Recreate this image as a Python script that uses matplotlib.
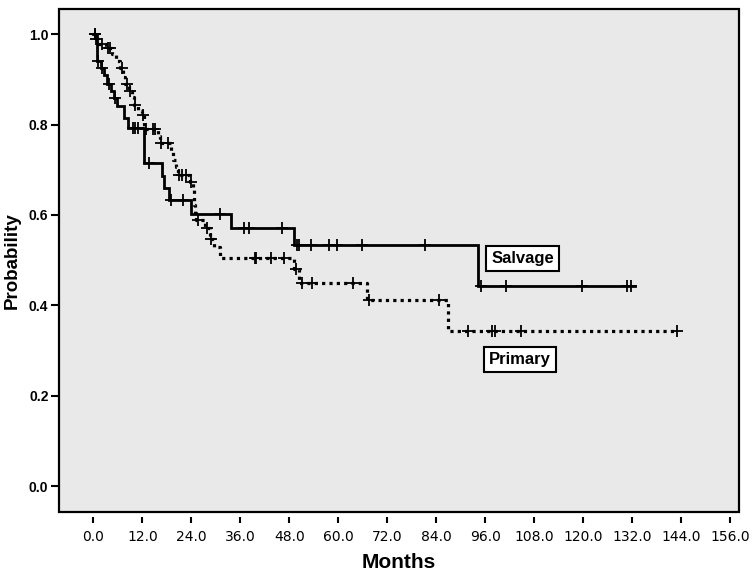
import numpy as np
import matplotlib
matplotlib.use("Agg")
import matplotlib.pyplot as plt
from matplotlib.patches import Rectangle

# ---- data ----
salvage_times = [0, 0.8, 1.8, 2.5, 3.3, 4.2, 5.0, 5.8, 7.6, 8.5, 12.4, 16.7, 17.3, 18.6, 23.8, 33.8, 49.1, 94.2]
salvage_surv = [1.0, 0.94, 0.925, 0.91, 0.89, 0.875, 0.858, 0.842, 0.814, 0.793, 0.715, 0.686, 0.66, 0.633, 0.602, 0.571, 0.534, 0.443]
salvage_end = 132.6
salvage_censor = [0.3, 1.2, 2.0, 3.8, 5.3, 9.6, 10.2, 11.0, 13.5, 18.9, 22.0, 31.0, 36.9, 38.2, 46.2,
                  49.8, 50.4, 53.4, 57.8, 59.7, 65.9, 81.2, 94.9, 101.0, 119.6, 130.6, 131.6]

primary_times = [0, 0.5, 1.2, 3.0, 4.5, 5.5, 6.5, 7.3, 7.8, 8.6, 9.5, 10.0, 11.0, 12.0, 12.5, 15.8, 16.3,
                 19.0, 19.5, 20.3, 20.6, 23.7, 24.4, 24.6, 24.8, 25.2, 27.3, 28.5, 29.5, 31.0, 49.1, 50.4, 67.1, 86.9]
primary_surv = [1.0, 0.99, 0.978, 0.97, 0.955, 0.94, 0.925, 0.905, 0.89, 0.875, 0.86, 0.843, 0.83, 0.82, 0.79, 0.775, 0.759,
                0.74, 0.722, 0.705, 0.689, 0.672, 0.655, 0.622, 0.605, 0.589, 0.571, 0.548, 0.53, 0.504, 0.48, 0.45, 0.413, 0.343]
primary_end = 143.0
primary_censor = [0.3, 0.6, 2.0, 3.5, 4.0, 6.9, 8.2, 8.9, 10.2, 12.2, 13.0, 14.5, 15.2, 16.6, 18.3, 21.0, 21.8, 22.6,
                  24.0, 25.5, 27.7, 28.9, 39.5, 39.8, 43.4, 46.6, 49.7, 51.0, 53.5, 63.5, 67.5, 84.7, 91.8, 97.5,
                  98.3, 104.6, 143.0]

x_ticks = [0, 12, 24, 36, 48, 60, 72, 84, 96, 108, 120, 132, 144, 156]
y_ticks = [0.0, 0.2, 0.4, 0.6, 0.8, 1.0]
labels = ["Salvage", "Primary"]

NARROW = ["Liberation Sans Narrow", "Liberation Sans", "DejaVu Sans"]
WIDE = ["Liberation Sans", "DejaVu Sans"]


def surv_at(times, surv, t):
    idx = np.searchsorted(np.asarray(times), t, side="right") - 1
    return np.asarray(surv)[idx]


fig = plt.figure(figsize=(7.56, 5.78), dpi=100)
ax = fig.add_axes([0.0787, 0.1147, 0.8988, 0.8694])
ax.set_facecolor("#e9e9e9")

# Salvage (solid)
st = list(salvage_times) + [salvage_end]
ss = list(salvage_surv) + [salvage_surv[-1]]
ax.step(st, ss, where="post", color="black", lw=2.0, solid_joinstyle="miter")
ax.plot(salvage_censor, surv_at(salvage_times, salvage_surv, salvage_censor),
        ls="none", marker="+", ms=8, mew=1.3, color="black")

# Primary (dotted)
pt = list(primary_times) + [primary_end]
ps = list(primary_surv) + [primary_surv[-1]]
ax.step(pt, ps, where="post", color="black", lw=2.3, ls=(0, (1.0, 1.3)), dash_capstyle="butt")
ax.plot(primary_censor, surv_at(primary_times, primary_surv, primary_censor),
        ls="none", marker="+", ms=8, mew=1.3, color="black")

ax.set_xlim(-8.3, 158.1)
ax.set_ylim(-0.056, 1.055)

ax.set_xticks(x_ticks)
ax.set_xticklabels([f"{v:.1f}" for v in x_ticks])
ax.set_yticks(y_ticks)
ax.set_yticklabels([f"{v:.1f}" for v in y_ticks])

for lab in ax.get_xticklabels() + ax.get_yticklabels():
    lab.set_family(NARROW)
    lab.set_fontweight("bold")
    lab.set_fontsize(10)

ax.spines["bottom"].set_position(("outward", 4))
for s in ax.spines.values():
    s.set_visible(False)
ax.add_patch(Rectangle((0, 0), 1, 1, transform=ax.transAxes, fill=False,
                       lw=1.6, ec="black", clip_on=False, zorder=10))

ax.tick_params(axis="x", direction="out", length=4.5, width=1.5, pad=4.5)
ax.tick_params(axis="y", direction="out", length=5.5, width=1.5, pad=2.5)

ax.set_xlabel("Months", family=NARROW, fontweight="bold", fontsize=15, labelpad=7)
ax.set_ylabel("Probability", family=WIDE, fontweight="bold", fontsize=13.5, labelpad=6)

box = dict(boxstyle="square,pad=0.3", fc="white", ec="black", lw=1.5)
ax.text(105.1, 0.503, labels[0], ha="center", va="center", family=NARROW,
        fontweight="bold", fontsize=12, bbox=box)
ax.text(104.5, 0.28, labels[1], ha="center", va="center", family=NARROW,
        fontweight="bold", fontsize=12, bbox=box)

fig.savefig("out.png", dpi=100, facecolor="white")
